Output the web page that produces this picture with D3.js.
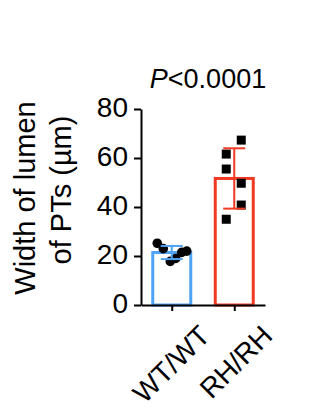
<!DOCTYPE html>
<html>
<head>
<meta charset="utf-8">
<script src="https://cdn.jsdelivr.net/npm/d3@7"></script>
<style>
  body { margin: 0; background: #fff; }
  text { font-family: "Liberation Sans", Arial, sans-serif; fill: #000; }
</style>
</head>
<body>
<script>
// data
var groups = ["WT/WT", "RH/RH"];
var wtValues = [25.2, 23.0, 17.8, 19.0, 21.5, 22.0];
var rhValues = [67.3, 61.6, 55.5, 49.7, 40.8, 35.0];
var yTicks = [0, 20, 40, 60, 80];
var pLabel = "<0.0001";

var outerWidth = 310,
    outerHeight = 408,
    colors = ["#4fa3f5", "#f03a23"];

var svg = d3.select("body").append("svg")
    .attr("width", outerWidth)
    .attr("height", outerHeight)

//scales
var yScale = d3.scaleLinear().domain([0, 80]).range([305, 109])
var xScale = d3.scalePoint().domain(groups).range([141, 265]).padding(0.492)

var series = [wtValues, rhValues]
var barWidth = 38

//bars
series.forEach((vals, i) => {
    var cx = xScale(groups[i])
    var m = d3.mean(vals)
    svg.append("rect")
        .attr("x", cx - barWidth / 2)
        .attr("y", yScale(m))
        .attr("width", barWidth)
        .attr("height", yScale(0) - yScale(m))
        .attr("fill", "#fff")
        .attr("stroke", colors[i])
        .attr("stroke-width", 3)
})

//points, spread sideways so they don't overlap
var wtJitter = [-14.5, -8.5, -1.5, 4, 10, 15]
var rhJitter = [7, -8, -8, 7, 7, -8]

svg.append("g").selectAll("circle")
    .data(wtValues)
    .join("circle")
    .attr("cx", (d, j) => xScale(groups[0]) + wtJitter[j])
    .attr("cy", d => yScale(d))
    .attr("r", 4.8)
    .attr("fill", "#000")

svg.append("g").selectAll("rect")
    .data(rhValues)
    .join("rect")
    .attr("x", (d, j) => xScale(groups[1]) + rhJitter[j] - 4.5)
    .attr("y", d => yScale(d) - 4.5)
    .attr("width", 9)
    .attr("height", 9)
    .attr("fill", "#000")

//error bars (mean +/- SD)
series.forEach((vals, i) => {
    var cx = xScale(groups[i])
    var m = d3.mean(vals), sd = d3.deviation(vals)
    var g = svg.append("g")
        .attr("stroke", colors[i])
        .attr("stroke-width", 2)
    g.append("line")
        .attr("x1", cx).attr("x2", cx)
        .attr("y1", yScale(m + sd)).attr("y2", yScale(m - sd))
    g.selectAll(".cap")
        .data([m + sd, m - sd])
        .join("line")
        .attr("x1", cx - 11).attr("x2", cx + 11)
        .attr("y1", d => yScale(d)).attr("y2", d => yScale(d))
})

//y axis
var yAxis = d3.axisLeft(yScale).tickValues(yTicks).tickSize(7).tickPadding(6).tickSizeOuter(0)
var yg = svg.append("g")
    .attr("transform", "translate(141,0)")
    .call(yAxis)
yg.select(".domain").attr("stroke-width", 2)
yg.selectAll(".tick line").attr("stroke-width", 2)
yg.selectAll(".tick text")
    .attr("font-size", 28)
    .attr("font-family", "Liberation Sans, Arial, sans-serif")
    .attr("dy", "0.25em")

//x axis
var xAxis = d3.axisBottom(xScale).tickSize(6).tickSizeOuter(0)
var xg = svg.append("g")
    .attr("transform", "translate(0,305)")
    .call(xAxis)
xg.select(".domain").attr("stroke-width", 2)
xg.selectAll(".tick line").attr("stroke-width", 2)
xg.selectAll(".tick text")
    .attr("font-size", 28)
    .attr("font-family", "Liberation Sans, Arial, sans-serif")
    .attr("text-anchor", "end")
    .attr("dy", 0)
    .attr("transform", "translate(33,26) rotate(-45)")

//y axis title, two lines
svg.append("text")
    .text("Width of lumen")
    .attr("transform", "translate(35,198) rotate(-90)")
    .attr("text-anchor", "middle")
    .attr("font-size", 29)
svg.append("text")
    .text("of PTs (µm)")
    .attr("transform", "translate(71,190) rotate(-90)")
    .attr("text-anchor", "middle")
    .attr("font-size", 29)

//p value
var pt = svg.append("text")
    .attr("x", 208)
    .attr("y", 88)
    .attr("text-anchor", "middle")
    .attr("font-size", 27)
pt.append("tspan").attr("font-style", "italic").text("P")
pt.append("tspan").text(pLabel)
</script>
</body>
</html>
